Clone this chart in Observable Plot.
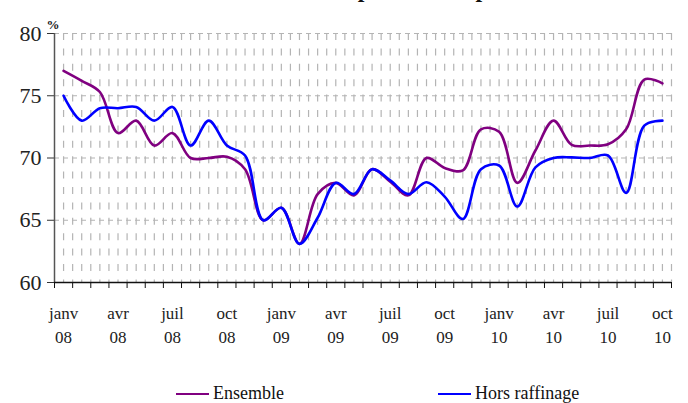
<!DOCTYPE html>
<html>
<head>
<meta charset="utf-8">
<script src="https://cdn.jsdelivr.net/npm/d3@7"></script>
<script src="https://cdn.jsdelivr.net/npm/@observablehq/plot@0.6"></script>
<style>
  html, body { margin: 0; padding: 0; background: #fff; overflow: hidden; }
  #wrap { position: relative; width: 688px; height: 403px; overflow: hidden; font-family: "Liberation Serif", "DejaVu Serif", serif; }
  #title { position: absolute; left: 85px; top: -23px; font-weight: bold; font-size: 24px; line-height: 24px; letter-spacing: 1px; white-space: nowrap; z-index: 2; color: #111; }
  #chart { position: absolute; left: 0; top: 0; }
  .leg { position: absolute; top: 383px; font-size: 18px; line-height: 20px; color: #111; white-space: nowrap; }
  .leg i { display: inline-block; width: 33px; height: 2.5px; vertical-align: middle; margin-right: 4px; position: relative; top: -1px; }
</style>
</head>
<body>
<div id="wrap">
  <div id="chart"></div>
  <div id="title">Taux d'utilisation des capacités de production</div>
  <div class="leg" style="left:176px"><i style="background:#800080"></i>Ensemble</div>
  <div class="leg" style="left:438px"><i style="background:#0000ff"></i>Hors raffinage</div>
</div>
<script>
// Months janv 08 .. oct 10 (34 monthly points)
const monthNames = ["janv","févr","mars","avr","mai","juin","juil","août","sept","oct","nov","déc"];
const years = ["08","09","10"];
const ensemble = [77, 76.2, 75.3, 72, 73, 71, 72, 70, 70, 70.1, 69.1, 65,
                  66, 63.1, 67.1, 68, 67, 69.1, 68.1, 67, 70, 69.2, 69, 72.3,
                  72.1, 68, 70.6, 73, 71.05, 71, 71.1, 72.3, 76.3, 76];
const horsRaffinage = [75, 73, 74, 74, 74.1, 73, 74.1, 71, 73, 71, 70.2, 65,
                       66, 63.1, 65.2, 68, 67.1, 69.1, 68.2, 67.1, 68.05, 66.9, 65.1, 69.1,
                       69.4, 66.1, 69.25, 70, 70.05, 70, 70.2, 67.2, 72.6, 73];
const yTicks = [60, 65, 70, 75, 80];

const n = ensemble.length;
const idx = d3.range(n);
const labels = idx.map(i => monthNames[i % 12] + "\n" + years[Math.floor(i / 12)]);
const quarterIdx = idx.filter(i => i % 3 === 0);
const boundaries = d3.range(n + 1).map(k => k - 0.5);
const halfLines = d3.range(2 * n + 1).map(k => k / 2 - 0.5).filter(v => v > -0.5);

const rows = [
  ...idx.map(i => ({i, v: ensemble[i], s: "Ensemble"})),
  ...idx.map(i => ({i, v: horsRaffinage[i], s: "Hors raffinage"}))
];

const chart = Plot.plot({
  width: 688,
  height: 365,
  marginLeft: 54,
  marginRight: 17,
  marginTop: 33,
  marginBottom: 83,
  style: {fontFamily: "'Liberation Serif', serif", background: "#fff", color: "#111"},
  x: {domain: [-0.5, n - 0.5], axis: null, label: null},
  y: {domain: [60, 80], axis: null, label: null},
  color: {domain: ["Ensemble", "Hors raffinage"], range: ["#800080", "#0000ff"]},
  marks: [
    // vertical dashed grid every half month
    Plot.ruleX(halfLines, {x: d => d, y1: 80, y2: 60, stroke: "#b4b4b4", strokeWidth: 1.2, strokeDasharray: "7,8.4"}),
    // horizontal dashed grid
    Plot.ruleY(yTicks.filter(t => t > 60), {y: d => d, x1: -0.5, x2: n - 0.5, stroke: "#b4b4b4", strokeWidth: 1.2, strokeDasharray: "5,4"}),
    // x ticks at month boundaries
    Plot.axisX({ticks: boundaries, tickFormat: () => "", tickSize: 6, stroke: "#111", label: null}),
    // y axis ticks and labels
    Plot.axisY({ticks: yTicks, tickSize: 7, tickPadding: 6, fontSize: 22, label: null, stroke: "#333", color: "#222"}),
    Plot.ruleX([-0.5], {y1: 60, y2: 80, stroke: "#555", strokeWidth: 1.5}),
    Plot.ruleY([60], {stroke: "#111", strokeWidth: 1.5}),
    Plot.text(["%"], {frameAnchor: "top-left", dx: -8, dy: -14, fontSize: 13, fontWeight: "bold", fill: "#222"}),
    // quarterly tick labels
    Plot.text(quarterIdx, {x: d => d, y: 60, text: d => labels[d], dy: 41, fontSize: 17, lineHeight: 1.4, fill: "#222"}),
    // series
    Plot.line(rows, {x: "i", y: "v", z: "s", stroke: "s", strokeWidth: 2.6, curve: "catmull-rom"})
  ]
});
document.getElementById("chart").appendChild(chart);
</script>
</body>
</html>
